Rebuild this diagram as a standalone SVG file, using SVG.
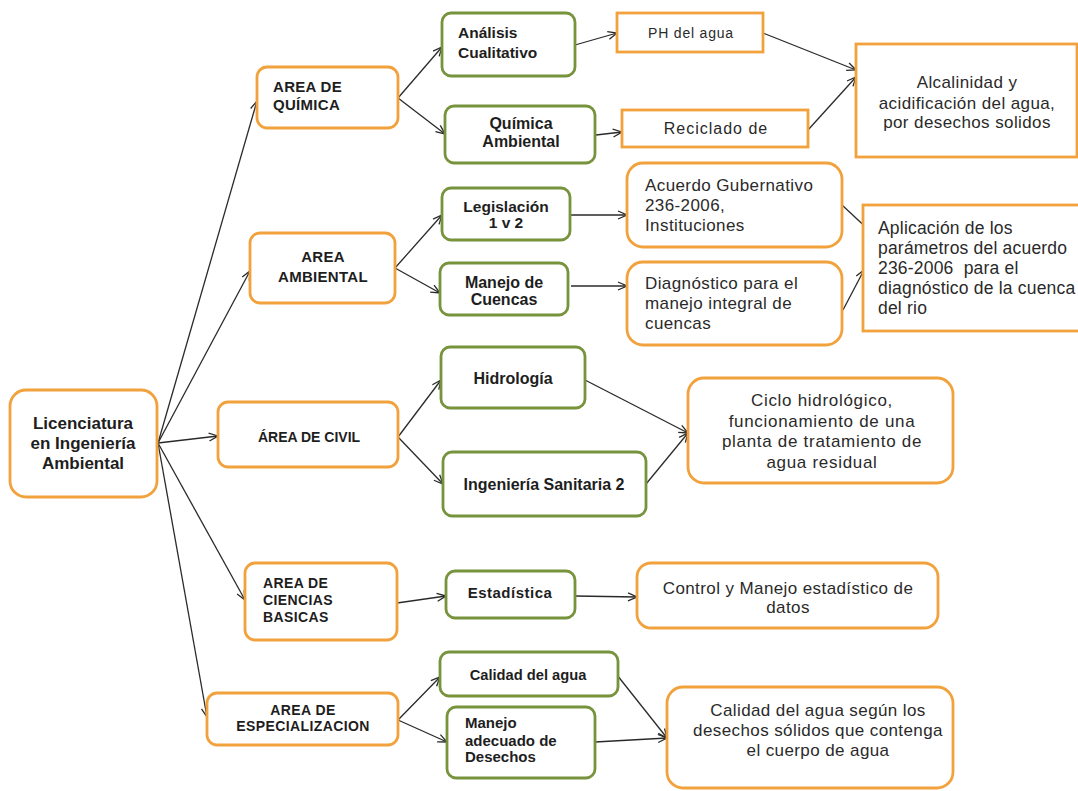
<svg xmlns="http://www.w3.org/2000/svg" width="1078" height="791" viewBox="0 0 1078 791">
<defs>
<marker id="arr" viewBox="0 0 10 10" refX="10" refY="5" markerWidth="10" markerHeight="10" markerUnits="userSpaceOnUse" orient="auto">
<path d="M1,1 L10,5 L1,9" fill="none" stroke="#2a2a2a" stroke-width="1.3"/>
</marker>
<style>
.or{fill:#fff;stroke:#F2A23C;stroke-width:2.8}
.gr{fill:#fff;stroke:#77933C;stroke-width:2.8}
.b{font-family:"Liberation Sans",Arial,sans-serif;font-weight:bold;fill:#1e1e1e}
.r{font-family:"Liberation Sans",Arial,sans-serif;fill:#2a2a2a;font-size:17px;letter-spacing:0.4px}
.m{text-anchor:middle}
.c line{stroke:#2a2a2a;stroke-width:1.3;marker-end:url(#arr)}
</style>
</defs>
<rect width="1078" height="791" fill="#fff"/>
<g class="c" id="connectors">
<line x1="158" y1="443" x2="257" y2="101"/>
<line x1="158" y1="443" x2="250" y2="271"/>
<line x1="158" y1="443" x2="218" y2="436"/>
<line x1="158" y1="443" x2="245" y2="600"/>
<line x1="158" y1="443" x2="207" y2="717"/>
<line x1="398" y1="98" x2="442" y2="47"/>
<line x1="398" y1="98" x2="445" y2="134"/>
<line x1="575" y1="45" x2="617" y2="33"/>
<line x1="596" y1="135" x2="622" y2="132"/>
<line x1="763" y1="33" x2="856" y2="70"/>
<line x1="808" y1="130" x2="856" y2="77"/>
<line x1="395" y1="268" x2="442" y2="215"/>
<line x1="395" y1="268" x2="440" y2="293"/>
<line x1="570" y1="215" x2="627" y2="215"/>
<line x1="571" y1="286" x2="627" y2="286"/>
<line x1="842" y1="205" x2="872" y2="233"/>
<line x1="843" y1="310" x2="864" y2="270"/>
<line x1="398" y1="437" x2="441" y2="380"/>
<line x1="398" y1="437" x2="443" y2="484"/>
<line x1="585" y1="380" x2="688" y2="433"/>
<line x1="646" y1="484" x2="688" y2="433"/>
<line x1="397" y1="603" x2="446" y2="596"/>
<line x1="575" y1="596" x2="637" y2="597"/>
<line x1="398" y1="720" x2="440" y2="677"/>
<line x1="398" y1="720" x2="447" y2="742"/>
<line x1="617" y1="675" x2="667" y2="738"/>
<line x1="595" y1="742" x2="667" y2="738"/>
</g>
<g id="root"><rect class="or" x="10" y="390" width="147" height="107" rx="16"/>
<text class="b m" font-size="17" x="83" y="429">Licenciatura</text>
<text class="b m" font-size="17" x="83" y="449">en Ingeniería</text>
<text class="b m" font-size="17" x="83" y="469">Ambiental</text></g>
<g id="quimica"><rect class="or" x="257" y="67" width="141" height="61" rx="10"/>
<text class="b" font-size="15" x="273" y="92" letter-spacing="0.3">AREA DE</text>
<text class="b" font-size="15" x="273" y="110" letter-spacing="0.3">QUÍMICA</text></g>
<g id="ambiental"><rect class="or" x="250" y="233" width="145" height="70" rx="10"/>
<text class="b m" font-size="15" x="323" y="262" letter-spacing="0.3">AREA</text>
<text class="b m" font-size="15" x="323" y="282" letter-spacing="0.3">AMBIENTAL</text></g>
<g id="civil"><rect class="or" x="218" y="402" width="180" height="65" rx="10"/>
<text class="b m" font-size="14" x="309" y="442">ÁREA DE CIVIL</text></g>
<g id="ciencias"><rect class="or" x="245" y="563" width="152" height="77" rx="10"/>
<text class="b" font-size="14" x="263" y="588" letter-spacing="0.4">AREA DE</text>
<text class="b" font-size="14" x="263" y="605" letter-spacing="0.4">CIENCIAS</text>
<text class="b" font-size="14" x="263" y="622" letter-spacing="0.4">BASICAS</text></g>
<g id="especializacion"><rect class="or" x="207" y="693" width="191" height="52" rx="10"/>
<text class="b m" font-size="14" x="303" y="715" letter-spacing="0.4">AREA DE</text>
<text class="b m" font-size="14" x="303" y="731" letter-spacing="0.4">ESPECIALIZACION</text></g>
<g id="analisis"><rect class="gr" x="442" y="13" width="133" height="63" rx="9"/>
<text class="b" font-size="15.5" x="458" y="38">Análisis</text>
<text class="b" font-size="15.5" x="458" y="58">Cualitativo</text></g>
<g id="qambiental"><rect class="gr" x="445" y="106" width="150" height="57" rx="9"/>
<text class="b m" font-size="16" x="521" y="129">Química</text>
<text class="b m" font-size="16" x="521" y="147">Ambiental</text></g>
<g id="legislacion"><rect class="gr" x="442" y="188" width="128" height="52" rx="9"/>
<text class="b m" font-size="15.5" x="506" y="212">Legislación</text>
<text class="b m" font-size="15.5" x="506" y="228">1 v 2</text></g>
<g id="cuencas"><rect class="gr" x="440" y="263" width="128" height="52" rx="9"/>
<text class="b m" font-size="16" x="504" y="288">Manejo de</text>
<text class="b m" font-size="16" x="504" y="305">Cuencas</text></g>
<g id="hidrologia"><rect class="gr" x="441" y="347" width="144" height="61" rx="9"/>
<text class="b m" font-size="16" x="513" y="384">Hidrología</text></g>
<g id="sanitaria"><rect class="gr" x="443" y="452" width="203" height="64" rx="9"/>
<text class="b m" font-size="16" x="544" y="490">Ingeniería Sanitaria 2</text></g>
<g id="estadistica"><rect class="gr" x="446" y="571" width="129" height="47" rx="9"/>
<text class="b m" font-size="15" x="510" y="598" letter-spacing="0.5">Estadística</text></g>
<g id="calidad"><rect class="gr" x="440" y="652" width="178" height="44" rx="9"/>
<text class="b m" font-size="14.7" x="528" y="680">Calidad del agua</text></g>
<g id="desechos"><rect class="gr" x="447" y="707" width="148" height="71" rx="9"/>
<text class="b" font-size="15" x="465" y="728">Manejo</text>
<text class="b" font-size="15" x="465" y="746">adecuado de</text>
<text class="b" font-size="15" x="465" y="762">Desechos</text></g>
<g id="ph"><rect class="or" x="617" y="13" width="146" height="39"/>
<text class="r m" x="691" y="38" style="font-size:14px;letter-spacing:0.8px">PH del agua</text></g>
<g id="reciclado"><rect class="or" x="622" y="110" width="186" height="37"/>
<text class="r m" x="716" y="134" style="font-size:16px;letter-spacing:1px">Reciclado de</text></g>
<g id="alcalinidad"><rect class="or" x="856" y="44" width="221" height="113"/>
<text class="r m" x="967" y="88">Alcalinidad y</text>
<text class="r m" x="967" y="109">acidificación del agua,</text>
<text class="r m" x="967" y="128">por desechos solidos</text></g>
<g id="acuerdo"><rect class="or" x="627" y="163" width="215" height="84" rx="16"/>
<text class="r" x="645" y="191">Acuerdo Gubernativo</text>
<text class="r" x="645" y="211">236-2006,</text>
<text class="r" x="645" y="231">Instituciones</text></g>
<g id="diagnostico"><rect class="or" x="627" y="262" width="215" height="83" rx="16"/>
<text class="r" x="645" y="289">Diagnóstico para el</text>
<text class="r" x="645" y="309">manejo integral de</text>
<text class="r" x="645" y="329">cuencas</text></g>
<g id="aplicacion"><rect class="or" x="863" y="205" width="220" height="126"/>
<text class="r" x="878" y="234" style="font-size:17.5px;letter-spacing:0.2px">Aplicación de los</text>
<text class="r" x="878" y="254" style="font-size:17.5px;letter-spacing:0.2px">parámetros del acuerdo</text>
<text class="r" x="878" y="274" style="font-size:17.5px;letter-spacing:0.2px;white-space:pre">236-2006  para el</text>
<text class="r" x="878" y="294" style="font-size:17.5px;letter-spacing:0.2px">diagnóstico de la cuenca</text>
<text class="r" x="878" y="314" style="font-size:17.5px;letter-spacing:0.2px">del rio</text></g>
<g id="ciclo"><rect class="or" x="688" y="378" width="265" height="105" rx="16"/>
<text class="r m" x="822" y="406" style="letter-spacing:0.7px">Ciclo hidrológico,</text>
<text class="r m" x="822" y="427" style="letter-spacing:0.7px">funcionamiento de una</text>
<text class="r m" x="822" y="447" style="letter-spacing:0.7px">planta de tratamiento de</text>
<text class="r m" x="822" y="468" style="letter-spacing:0.7px">agua residual</text></g>
<g id="control"><rect class="or" x="637" y="563" width="301" height="65" rx="14"/>
<text class="r m" x="788" y="594">Control y Manejo estadístico de</text>
<text class="r m" x="788" y="613">datos</text></g>
<g id="calidadsegun"><rect class="or" x="667" y="687" width="286" height="101" rx="16"/>
<text class="r m" x="818" y="716">Calidad del agua según los</text>
<text class="r m" x="818" y="736">desechos sólidos que contenga</text>
<text class="r m" x="818" y="756">el cuerpo de agua</text></g>
</svg>
